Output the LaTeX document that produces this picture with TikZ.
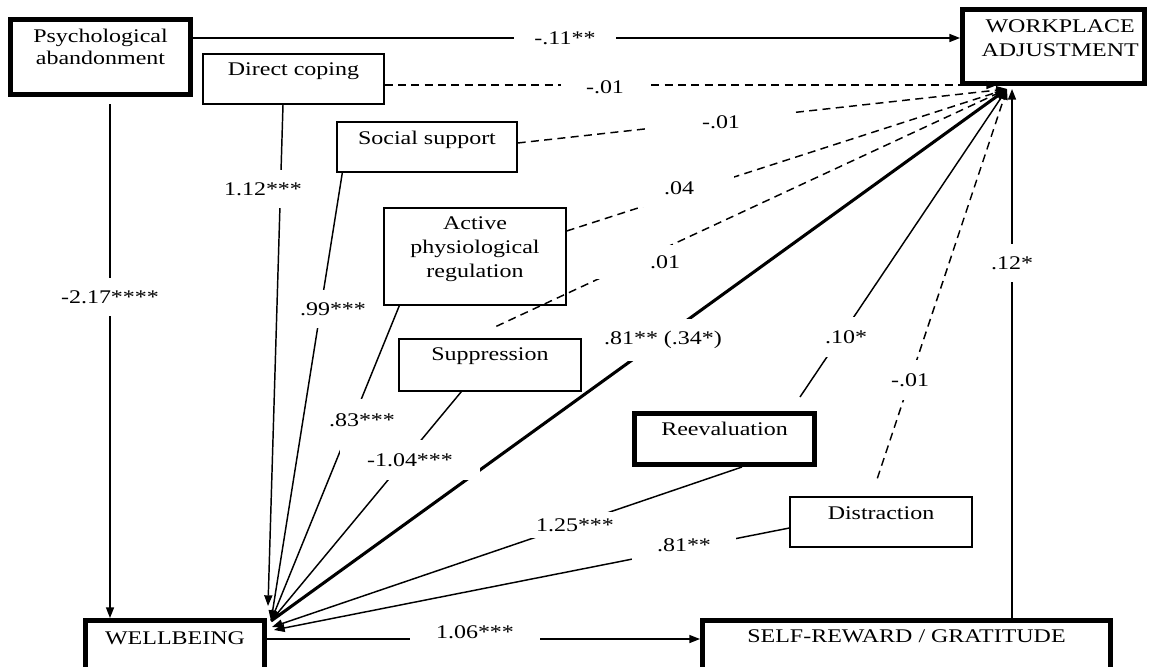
\documentclass[tikz,border=0pt]{standalone}
\usepackage{fontspec}
\setmainfont{Liberation Serif}[FakeStretch=1.24]
\usetikzlibrary{arrows.meta,calc}
\begin{document}
\begin{tikzpicture}[x=0.75pt,y=-0.75pt,
  font=\fontsize{14.5}{17}\selectfont,
  box/.style={draw, line width=1pt, inner sep=0pt},
  heavybox/.style={draw, line width=3.75pt, inner sep=0pt},
  boxsize/.style 2 args={minimum width=#1*0.75pt, minimum height=#2*0.75pt},
  title/.style={anchor=north, align=center, inner sep=0pt},
  link/.style={line width=1.1pt, -{Triangle[length=8pt,width=6pt]}},
  nslink/.style={link, dash pattern=on 6pt off 4pt},
  boldlink/.style={line width=2.3pt, -{Triangle[length=9pt,width=7pt]}},
  coef/.style={fill=white, inner xsep=3pt, inner ysep=3pt},
]
\clip (0,0) rectangle (1149,667);

% constructs
\node[heavybox, boxsize={180}{75},
  label={[title, yshift=-8.5pt, font=\fontsize{14.5}{16.5}\selectfont]north:Psychological\\abandonment}] (psy) at (100.5,57) {};
\node[box, boxsize={181}{50}, label={[title, yshift=-6.5pt]north:Direct coping}] (dc) at (293.5,79) {};
\node[box, boxsize={180}{50}, label={[title, yshift=-7.25pt]north:Social support}] (ss) at (427,147) {};
\node[box, boxsize={182}{97},
  label={[title, yshift=-6.5pt, font=\fontsize{14.5}{18}\selectfont]north:Active\\physiological\\regulation}] (apr) at (475,256.5) {};
\node[box, boxsize={182}{52}, label={[title, yshift=-6.5pt]north:Suppression}] (sup) at (490,365) {};
\node[heavybox, boxsize={180}{51}, label={[title, yshift=-8pt]north:Reevaluation}] (re) at (724.5,439) {};
\node[box, boxsize={182}{50}, label={[title, yshift=-7.25pt]north:Distraction}] (di) at (881,522) {};
\node[heavybox, boxsize={182}{74},
  label={[title, yshift=-9.5pt, xshift=5pt, font=\fontsize{14.5}{18}\selectfont]north:WORKPLACE\\ADJUSTMENT}] (wa) at (1053.5,46.5) {};
\node[heavybox, boxsize={179}{80}, label={[title, yshift=-10.25pt]north:WELLBEING}] (wb) at (175,660.5) {};
\node[heavybox, boxsize={408}{80}, label={[title, yshift=-8.75pt]north:SELF-REWARD / GRATITUDE}] (sr) at (906.5,660) {};

% arrow meeting points
\coordinate (wa-in) at (1007,89);
\coordinate (wa-dc) at (997,85);
\coordinate (wb-in) at (271,621);
\coordinate (wb-dc) at (268,606);
\coordinate (wb-re) at (272,627);
\coordinate (wb-di) at (274,630);

% paths
\draw[link] (psy.east |- 0,38) -- (wa.west |- 0,38);
\draw[link] ($(psy.south)+(9.5,7)$) coordinate (pv) -- (pv |- wb.north);
\draw[link] ($(dc.south)+(-10.5,0)$) -- (wb-dc);
\draw[nslink] ($(dc.east)+(0,6)$) -- (wa-dc);
\draw[link] ($(ss.south west)+(6,0)$) -- (wb-in);
\draw[nslink] ($(ss.east)+(0,-4)$) -- (wa-in);
\draw[link] ($(apr.south west)+(16,0)$) -- (wb-in);
\draw[nslink] ($(apr.east)+(0,-25.5)$) -- (wa-in);
\draw[link] ($(sup.south west)+(63,0)$) -- (wb-in);
\draw[nslink] ($(sup.north west)+(98,-12)$) -- (wa-in);
\draw[boldlink] (wb-in) -- (wa-in);
\draw[link] ($(re.north east)+(-17,-14)$) -- (wa-in);
\draw[link] ($(re.south west)+(110,0)$) -- (wb-re);
\draw[nslink] ($(di.north west)+(88,-18)$) -- (wa-in);
\draw[link] ($(di.west)+(0,6)$) -- (wb-di);
\draw[link] ($(sr.north west)+(312,0)$) coordinate (sv) -- (sv |- wa-in);
\draw[link] ($(wb.north east)+(0,21)$) coordinate (wh) -- (wh -| sr.west);

% coefficients
\node[coef, inner xsep=15pt] (k1) at (565,38) {-.11**};
\node[coef, inner xsep=19pt] (k2) at (605,87) {-.01};
\node[coef, inner xsep=40pt] (k3) at (721,122) {-.01};
\node[coef, inner xsep=30pt, inner ysep=9pt] (k4) at (679,188) {.04};
\node[coef, inner xsep=40.5pt, inner ysep=7.5pt] (k5) at (665,262) {.01};
\node[coef, inner ysep=9pt] (k6) at (663,340) {.81** (.34*)};
\node[coef, inner ysep=10pt] (k7) at (846,337) {.10*};
\node[coef, inner ysep=10pt] (k8) at (910,380) {-.01};
\node[coef, inner ysep=9pt] (k9) at (1012,263) {.12*};
\node[coef, inner ysep=9pt] (k10) at (263,189) {1.12***};
\node[coef, inner ysep=9pt] (k11) at (333,309) {.99***};
\node[coef, inner ysep=10.5pt] (k12) at (362,420) {.83***};
\node[coef, inner xsep=20pt, inner ysep=10pt] (k13) at (410,460) {-1.04***};
\node[coef, inner xsep=13.5pt, inner ysep=5pt] (k14) at (575,525) {1.25***};
\node[coef, inner xsep=19pt, inner ysep=7.5pt] (k15) at (684,545) {.81**};
\node[coef, inner xsep=19.5pt] (k16) at (475,632) {1.06***};
\node[coef, inner ysep=9pt] (k17) at (110,297) {-2.17****};
\end{tikzpicture}
\end{document}
